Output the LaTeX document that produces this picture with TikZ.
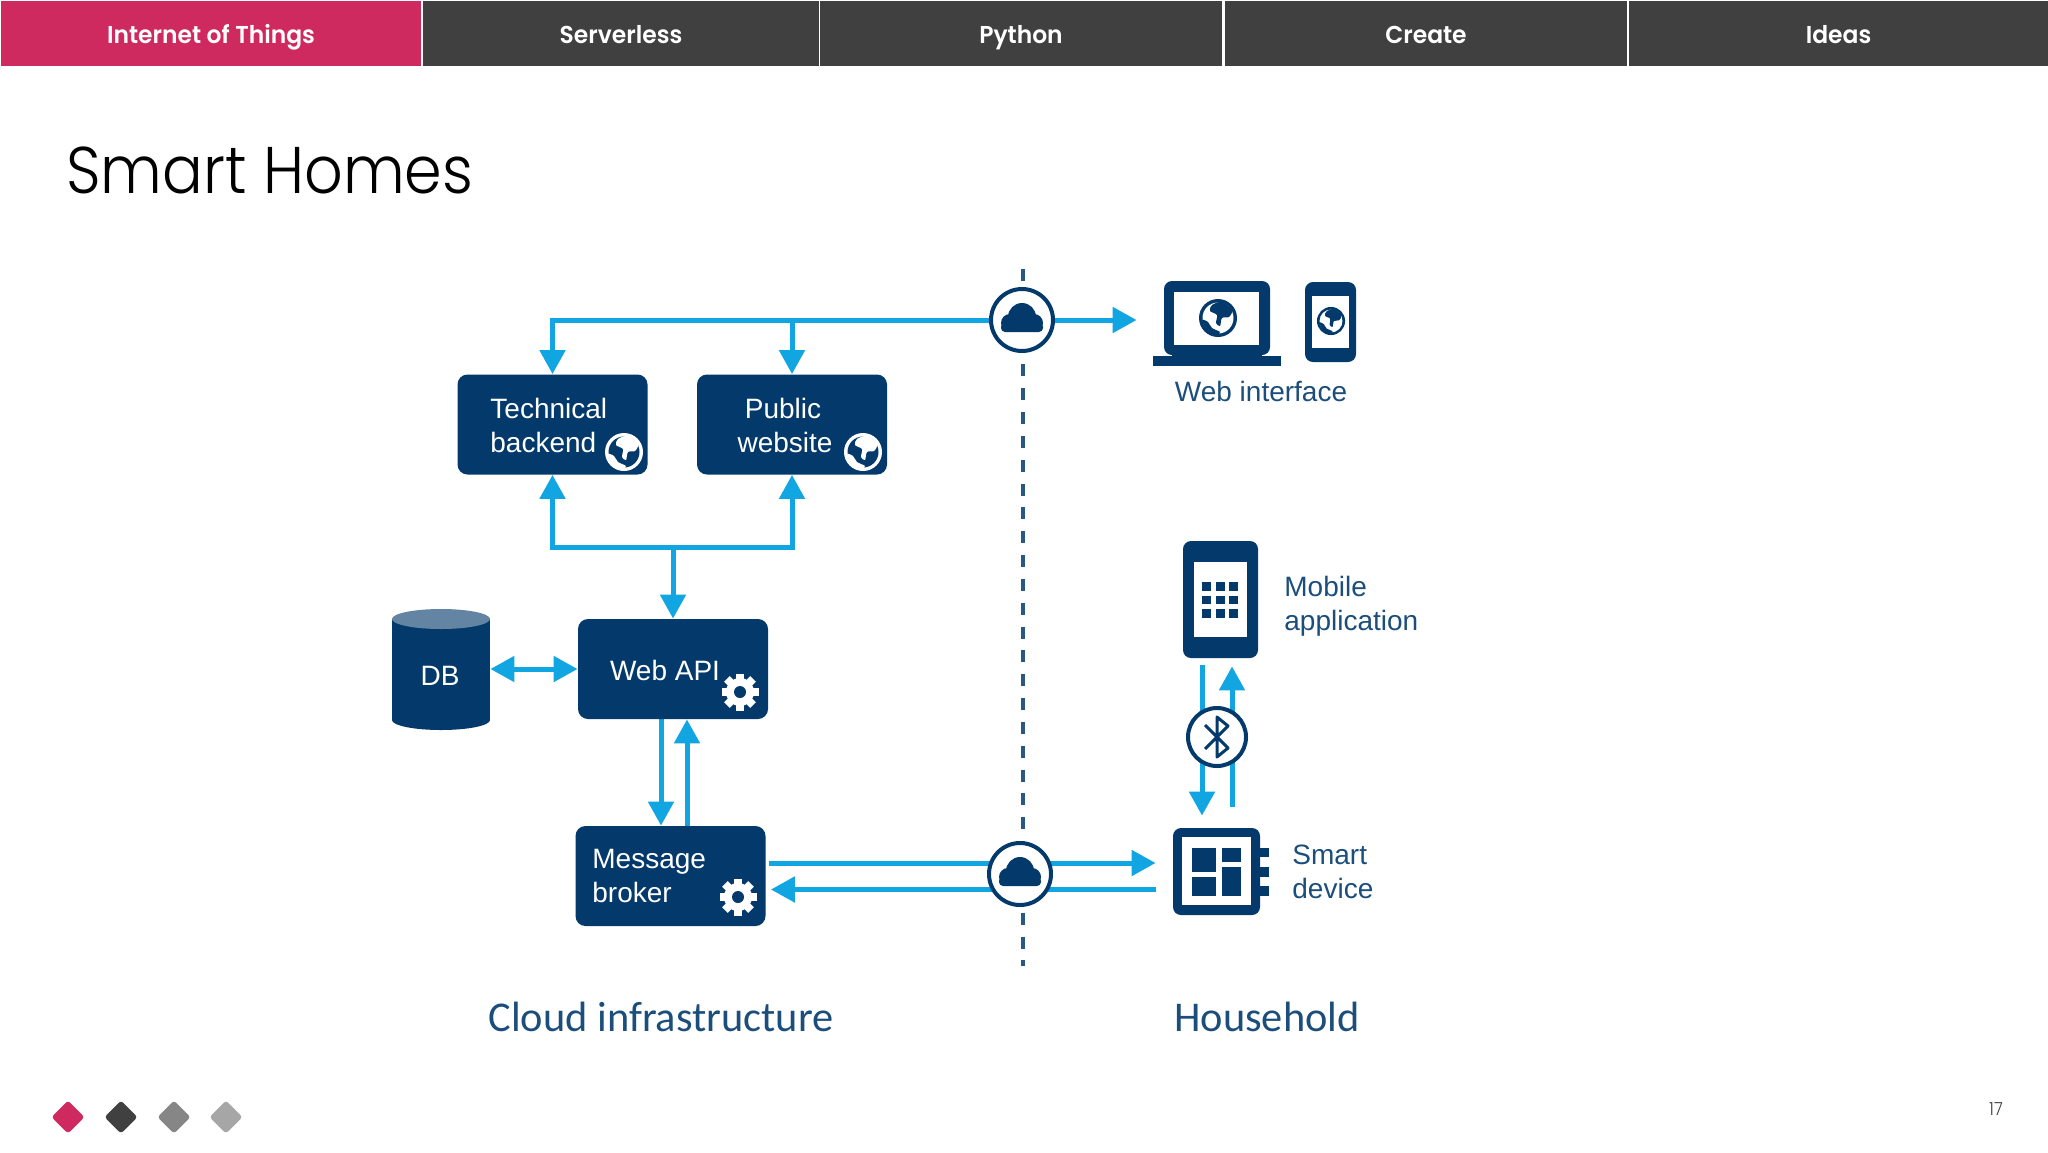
\documentclass[tikz,border=0pt]{standalone}
\usepackage{fontspec}
\usetikzlibrary{arrows.meta,shapes.geometric,calc}
\setmainfont{Liberation Sans}
\newfontfamily\headfont{Poppins SemiBold}[FakeStretch=0.96]
\newfontfamily\titlefont{Poppins Light}[FakeStretch=0.915]
\newfontfamily\capfont{Carlito}
\definecolor{navy}{HTML}{033A6B}
\definecolor{sky}{HTML}{11A5E2}
\definecolor{inktext}{HTML}{1C4E7C}
\definecolor{pinkbar}{HTML}{CF2A60}
\definecolor{darkbar}{HTML}{404040}
\definecolor{dbtop}{HTML}{6484A3}
\pgfdeclarelayer{wires}
\pgfsetlayers{wires,main}
\tikzset{
  tab/.style={fill=#1,inner sep=0pt,minimum height=32.5pt,text=white,text height=12pt,text depth=2pt,font=\headfont\fontsize{12.2}{15}\selectfont},
  box/.style={fill=navy,rounded corners=5pt,minimum width=95pt,minimum height=50pt,inner sep=0pt},
  boxtext/.style={text=white,inner sep=0pt,font=\fontsize{14}{17}\selectfont},
  inktxt/.style={text=inktext,inner sep=0pt,font=\fontsize{14}{17}\selectfont},
  captxt/.style={text=inktext,inner sep=0pt,font=\capfont\fontsize{21.2}{24}\selectfont},
  icon/.style={fill=navy,rounded corners=4pt,inner sep=0pt},
  conn/.style={draw=sky,line width=2.5pt,-{Triangle[length=12pt,width=12.5pt]}},
  conn2/.style={draw=sky,line width=2.5pt,{Triangle[length=12pt,width=12.5pt]}-{Triangle[length=12pt,width=12.5pt]}},
  divider/.style={draw=navy!85!white,line width=1.6pt,dash pattern=on 6pt off 5.92pt},
  hub/.style={circle,draw=navy,line width=2pt,fill=white,minimum size=31pt,inner sep=0pt},
  pics/globe/.style n args={2}{code={
    \fill[#1] (0,0) circle[radius=19];
    \fill[#2] (0,0) circle[radius=15.5];
    \fill[#1] plot[smooth cycle] coordinates {(-6,-13)(4,-16)(14,-8)(11,-1)(4,0)(2,8)(-2,5)(-1,-3)(-8,-7)};
    \fill[#1] plot[smooth cycle] coordinates {(-16,2)(-10,4)(-6,10)(2,14)(-2,17)(-11,12)};
  }},
  pics/gear/.style={code={
    \foreach \a in {0,45,...,315}{
      \fill[white,rotate=\a] (-4,-18.5) rectangle (4,0);
    }
    \fill[white] (0,0) circle[radius=14];
    \fill[navy] (0,0) circle[radius=6];
  }},
  pics/cloud/.style={code={
    \fill[navy,rounded corners=2pt] (-21,3) rectangle (21,12);
    \fill[navy] (-12,3) circle[radius=9];
    \fill[navy] (12,3) circle[radius=9];
    \fill[navy] (0,-3) circle[radius=14];
  }}
}
\begin{document}
\begin{tikzpicture}[x=0.5pt,y=-0.5pt]
\useasboundingbox (0,0) rectangle (2048,1152);
\begin{pgfonlayer}{wires}
\fill[white] (0,0) rectangle (2048,1152);
\end{pgfonlayer}

% header tabs
\node[tab=pinkbar,minimum width=210pt] (t1) at (211,33.5) {Internet of Things};
\node[tab=darkbar,minimum width=198pt] (t2) at (621,33.5) {Serverless};
\node[tab=darkbar,minimum width=201pt] (t3) at (1021,33.5) {Python};
\node[tab=darkbar,minimum width=201pt] (t4) at (1426,33.5) {Create};
\node[tab=darkbar,minimum width=209.5pt] (t5) at (1838.5,33.5) {Ideas};

% title
\node[anchor=base west,inner sep=0pt,font=\titlefont\fontsize{33}{40}\selectfont] (title) at (66,193) {Smart Homes};

% boxes
\node[box] (tech) at (552.5,424.5) {};
\node[box] (pub) at (792,424.5) {};
\node[box] (api) at (673,669) {};
\node[box] (broker) at (670.5,876) {};
\node[boxtext,anchor=base west] (techA) at (490,418) {Technical};
\node[boxtext,anchor=base west] (techB) at (490,452) {backend};
\node[boxtext,anchor=base] (pubA) at (783,418) {Public};
\node[boxtext,anchor=base] (pubB) at (785,452) {website};
\node[boxtext,anchor=base] (apiT) at (665,680) {Web API};
\node[boxtext,anchor=base west] (brA) at (592,868) {Message};
\node[boxtext,anchor=base west] (brB) at (592,902) {broker};
\pic at (624,452) {globe={white}{navy}};
\pic at (863,452) {globe={white}{navy}};
\pic at (740,692) {gear};
\pic at (738,897) {gear};

% database
\node[fill=navy,minimum width=49pt,minimum height=50.5pt,inner sep=0pt] (db) at (441,669.5) {};
\fill[navy] (441,720) ellipse[x radius=49,y radius=10];
\fill[dbtop] (441,619) ellipse[x radius=49,y radius=10];
\node[boxtext,anchor=base] (dbT) at (440,685) {DB};

% hubs
\node[hub] (cloudT) at (1022,320) {};
\pic at (1022,320) {cloud};
\node[hub] (cloudB) at (1020,874) {};
\pic at (1020,874) {cloud};
\node[hub,minimum size=29pt] (bt) at (1217,737) {};
\draw[navy,line width=1.5pt,line join=round] (1205,725) -- (1228,748) -- (1217,757) -- (1217,717) -- (1228,726) -- (1205,749);

% laptop and phone
\node[icon,minimum width=53pt,minimum height=37pt] (laptop) at (1217,318) {};
\fill[white] (1174,292) rectangle (1259,345);
\fill[navy] (1153,356) rectangle (1281,366);
\fill[navy] (1172,345) rectangle (1262,357);
\pic at (1218,318) {globe={navy}{white}};
\node[icon,minimum width=25.5pt,minimum height=40pt] (phone) at (1330.5,322) {};
\fill[white] (1312,296) rectangle (1349,348);
\pic[scale=0.74] at (1331,321) {globe={navy}{white}};
\node[inktxt,anchor=base] (webif) at (1261,401) {Web interface};

% mobile
\node[icon,minimum width=37.5pt,minimum height=58.5pt] (mobile) at (1220.5,599.5) {};
\fill[white] (1194,562) rectangle (1247,637);
\foreach \gx in {1202,1215.5,1229}{\foreach \gy in {582,595.5,609}{
  \fill[navy] (\gx,\gy) rectangle ++(9,8.5);
}}
\node[inktxt,anchor=base west] (mobA) at (1284,596) {Mobile};
\node[inktxt,anchor=base west] (mobB) at (1284,630) {application};

% smart device
\node[icon,minimum width=43.5pt,minimum height=43.5pt] (device) at (1216.5,871.5) {};
\fill[white] (1182,837) rectangle (1251,905);
\fill[navy] (1192,848) rectangle (1216,872);
\fill[navy] (1222,848) rectangle (1241,862);
\fill[navy] (1192,877) rectangle (1216,896);
\fill[navy] (1222,867) rectangle (1241,896);
\fill[navy] (1258,848) rectangle (1269,857);
\fill[navy] (1258,867) rectangle (1269,877);
\fill[navy] (1258,886) rectangle (1269,896);
\node[inktxt,anchor=base west] (devA) at (1292,864) {Smart};
\node[inktxt,anchor=base west] (devB) at (1292,898) {device};

% captions
\node[captxt,anchor=base] (capL) at (661,1031) {Cloud infrastructure};
\node[captxt,anchor=base] (capR) at (1267,1031) {Household};

% footer
\foreach \dx/\dc in {68/pinkbar,121/darkbar,174/gray!95,226/gray!70}{
  \fill[\dc,rounded corners=1.5pt] (\dx-16.5,1117) -- (\dx,1100.5) -- (\dx+16.5,1117) -- (\dx,1133.5) -- cycle;
}
\node[text=darkbar,inner sep=0pt,font=\titlefont\fontsize{9}{11}\selectfont] (pageno) at (1996,1109) {17};

% connectors
\begin{pgfonlayer}{wires}
\coordinate (divTop) at (1023,269);
\coordinate (divBot) at (1023,966);
\draw[divider] (divTop) -- (divBot);
\draw[conn] (cloudT.west) -| (tech.north);
\draw[conn] (pub.north |- cloudT.west) -- (pub.north);
\draw[conn,shorten >=13.5pt] (cloudT.east) -- (cloudT.east -| laptop.west);
\draw[conn2] (tech.south) |- (pub.south |- 0,547) -- (pub.south);
\draw[conn] (api.north |- 0,547) -- (api.north);
\draw[conn2] (db.east |- api.west) -- (api.west);
\draw[conn] (api.south -| 661,0) -- (broker.north -| 661,0);
\draw[conn] (broker.north -| 687,0) -- (api.south -| 687,0);
\draw[conn,shorten <=1.5pt,shorten >=8.5pt] (broker.east |- 0,863) -- (device.west |- 0,863);
\draw[conn,shorten <=8.5pt,shorten >=2.5pt] (device.west |- 0,889.5) -- (broker.east |- 0,889.5);
\draw[conn,shorten <=3.5pt,shorten >=6pt] (mobile.south -| 1202,0) -- (device.north -| 1202,0);
\draw[conn,shorten <=10.5pt,shorten >=4pt] (device.north -| 1232,0) -- (mobile.south -| 1232,0);
\end{pgfonlayer}
\end{tikzpicture}
\end{document}
